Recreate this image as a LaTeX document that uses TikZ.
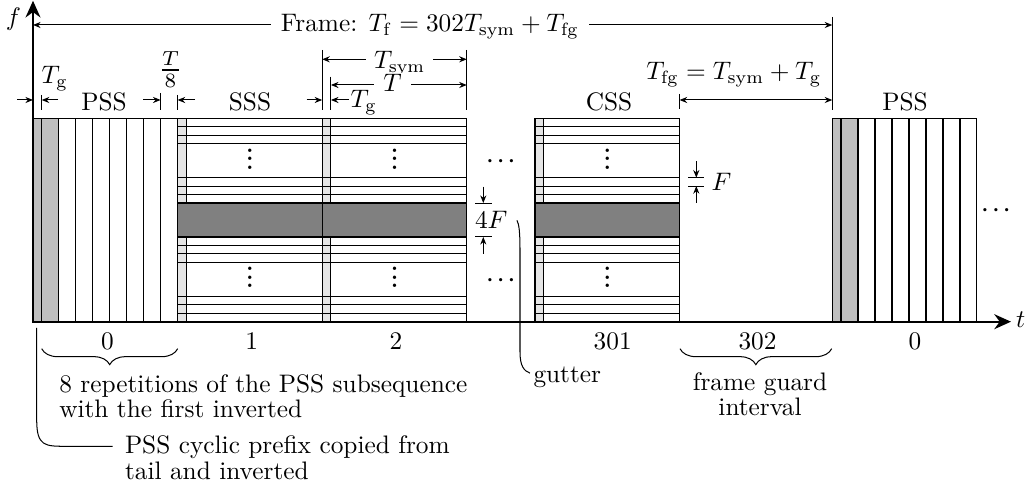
\documentclass[tikz,border=0pt]{standalone}
\usepackage{graphicx}
\usetikzlibrary{arrows.meta,decorations.pathreplacing,calc}
\newcommand\symbolblock[2]{% #1 = left x, #2 = name
  \fill[black!10] (#1,118.3) rectangle (#1+8.7,203.05);
  \fill[black!10] (#1,236.95) rectangle (#1+8.7,321.7);
  \filldraw[blk,fill=black!50] (#1,203.05) rectangle (#1+144.6,236.95);
  \foreach \k in {1,2,3,7,8,9,15,16,17,21,22,23}
    \draw[blk] (#1,118.3+\k*8.475) -- (#1+144.6,118.3+\k*8.475);
  \draw[blk] (#1+8.7,118.3) -- (#1+8.7,203.05) (#1+8.7,236.95) -- (#1+8.7,321.7);
  \draw[blk] (#1,118.3) rectangle (#1+144.6,321.7);
  \node[vdotsnode] (#2-vu) at (#1+72.3,169.5) {\scalebox{0.86}{\bfseries$\vdots$}};
  \node[vdotsnode] (#2-vl) at (#1+72.3,287.9) {\scalebox{0.86}{\bfseries$\vdots$}};
}
\newcommand\pssblock[1]{% #1 = left x
  \fill[black!25] (#1,118.3) rectangle (#1+25.69,321.7);
  \foreach \k in {0,...,7}
    \draw[blk] (#1+8.7+\k*16.99,118.3) -- (#1+8.7+\k*16.99,321.7);
  \draw[blk] (#1,118.3) rectangle (#1+144.6,321.7);
}
\begin{document}
\begin{tikzpicture}[x=0.395pt,y=-0.395pt,
  >={Stealth[length=3pt,width=2.4pt]},
  blk/.style={line width=0.45pt},
  dimline/.style={line width=0.4pt},
  dimarrow/.style={dimline,->},
  dimboth/.style={dimline,<->},
  axisline/.style={line width=0.8pt,
    {Stealth[length=6.6pt,width=5.9pt]}-{Stealth[length=6.6pt,width=5.9pt]}},
  lbl/.style={inner sep=0pt},
  gap/.style={fill=white,inner ysep=0.5pt},
  anno/.style={line width=0.4pt},
  bracedec/.style={decorate,decoration={brace,mirror,amplitude=6.3pt},line width=0.4pt},
  vdotsnode/.style={inner sep=0pt,anchor=base},
  cdotsnode/.style={inner sep=0pt,anchor=base},
  multiline/.style={inner sep=0pt},
  ]
\useasboundingbox (0,0) rectangle (1025,483);

% ---------- blocks ----------
\pssblock{33}
\symbolblock{177.6}{s1}
\symbolblock{322.2}{s2}
\symbolblock{535}{s301}
\pssblock{832.3}

% ---------- axes ----------
\coordinate (ftop) at (33,0.8);
\coordinate (orig) at (33,321.7);
\coordinate (tend) at (1011,321.7);
\draw[axisline] (ftop) -- (orig) -- (tend);
\node[lbl,anchor=base] (flab) at (13.5,26) {$f$};
\node[lbl,anchor=base west] (tlab) at (1015.5,328) {$t$};

% ---------- ellipses ----------
\node[cdotsnode] (gu) at (500.8,166.3) {\scalebox{0.84}{\boldmath$\cdots$}};
\node[cdotsnode] (gl) at (500.8,285.3) {\scalebox{0.84}{\boldmath$\cdots$}};
\node[cdotsnode] (rdots) at (996,215.3) {\scalebox{0.84}{\boldmath$\cdots$}};

% ---------- block labels ----------
\node[lbl,anchor=base] (pss1) at (104,111) {PSS};
\node[lbl,anchor=base] (sss) at (250,111) {SSS};
\node[lbl,anchor=base] (css) at (609,111) {CSS};
\node[lbl,anchor=base] (pss2) at (905,111) {PSS};

% ---------- ticks ----------
\coordinate (k1a) at (41.7,95);   \coordinate (k1b) at (41.7,110);
\coordinate (k2a) at (160.6,93);  \coordinate (k2b) at (160.6,110);
\coordinate (k3a) at (177.6,95);  \coordinate (k3b) at (177.6,110);
\coordinate (k4a) at (322.2,50);  \coordinate (k4b) at (322.2,110);
\coordinate (k5a) at (330.9,76.7);\coordinate (k5b) at (330.9,110);
\coordinate (k6a) at (466.8,50);  \coordinate (k6b) at (466.8,110);
\coordinate (k7a) at (679.6,94);  \coordinate (k7b) at (679.6,109);
\coordinate (k8a) at (832.3,17);  \coordinate (k8b) at (832.3,110);
\foreach \i in {1,...,8} \draw[dimline] (k\i a) -- (k\i b);

% ---------- dimension arrows ----------
\coordinate (a1) at (17,100);    \coordinate (a1e) at (33,100);
\coordinate (a2) at (58,100);    \coordinate (a2e) at (41.7,100);
\coordinate (a3) at (143.3,100); \coordinate (a3e) at (160.6,100);
\coordinate (a4) at (195,100);   \coordinate (a4e) at (177.6,100);
\coordinate (a5) at (306.7,100); \coordinate (a5e) at (322.2,100);
\coordinate (a6) at (349,100);   \coordinate (a6e) at (330.9,100);
\draw[dimarrow] (a1) -- (a1e);
\draw[dimarrow] (a2) -- (a2e);
\draw[dimarrow] (a3) -- (a3e);
\draw[dimarrow] (a4) -- (a4e);
\draw[dimarrow] (a5) -- (a5e);
\draw[dimarrow] (a6) -- (a6e);

\node[lbl,anchor=base west] (tg1) at (41,84) {$T_\mathrm{g}$};
\node[lbl,anchor=base] (t8) at (170.5,77.3) {\scalebox{1.15}{$\frac{T}{8}$}};
\node[lbl,anchor=base west] (tg2) at (350,108) {$T_\mathrm{g}$};

% T_sym, then T (T drawn on top)
\coordinate (sl) at (322.2,59.3); \coordinate (sr) at (466.8,59.3);
\draw[dimboth] (sl) -- (sr);
\node[gap,inner xsep=3pt,anchor=base] (Tsym) at (399.7,68.3) {$T_\mathrm{sym}$};
\coordinate (tl) at (330.9,85);   \coordinate (tr) at (466.8,85);
\draw[dimboth] (tl) -- (tr);
\node[gap,inner xsep=3.6pt,anchor=base] (Tlab) at (392.5,91.7) {$T$};

% frame
\coordinate (frl) at (33,25); \coordinate (frr) at (832.3,25);
\draw[dimboth] (frl) -- (frr);
\node[gap,inner xsep=3.9pt,anchor=base] (frame) at (430,31.7)
  {Frame: $T_\mathrm{f}=302T_\mathrm{sym}+T_\mathrm{fg}$};

% frame guard
\coordinate (gl1) at (679.6,100); \coordinate (gr1) at (832.3,100);
\draw[dimboth] (gl1) -- (gr1);
\node[lbl,anchor=base] (tfg) at (734,80) {$T_\mathrm{fg}=T_\mathrm{sym}+T_\mathrm{g}$};

% ---------- 4F ----------
\coordinate (q1) at (475,203.05);   \coordinate (q2) at (491.7,203.05);
\coordinate (q3) at (475,236.95);   \coordinate (q4) at (491.7,236.95);
\draw[dimline] (q1) -- (q2) (q3) -- (q4);
\coordinate (q5) at (483.3,186.7);  \coordinate (q6) at (483.3,203.05);
\coordinate (q7) at (483.3,254);    \coordinate (q8) at (483.3,236.95);
\draw[dimarrow] (q5) -- (q6);
\draw[dimarrow] (q7) -- (q8);
\node[lbl,anchor=base west] (fourF) at (474.5,229) {$4F$};

% ---------- F ----------
\coordinate (r1) at (688.3,177.63); \coordinate (r2) at (704.3,177.63);
\coordinate (r3) at (688.3,186.1);  \coordinate (r4) at (704.3,186.1);
\draw[dimline] (r1) -- (r2) (r3) -- (r4);
\coordinate (r5) at (696.3,161.3);  \coordinate (r6) at (696.3,177.63);
\coordinate (r7) at (696.3,203);    \coordinate (r8) at (696.3,186.1);
\draw[dimarrow] (r5) -- (r6);
\draw[dimarrow] (r7) -- (r8);
\node[lbl,anchor=base west] (Flab) at (711,190.6) {$F$};

% ---------- symbol indices ----------
\node[lbl,anchor=base] (n0) at (107.5,349.7) {0};
\node[lbl,anchor=base] (n1) at (251.7,349.7) {1};
\node[lbl,anchor=base] (n2) at (396,349.7) {2};
\node[lbl,anchor=base] (n301) at (612.7,349.7) {301};
\node[lbl,anchor=base] (n302) at (757.5,349.7) {302};
\node[lbl,anchor=base] (n0b) at (915,349.7) {0};

% ---------- braces ----------
\coordinate (b1l) at (41.7,348.7); \coordinate (b1r) at (177.7,348.7);
\draw[bracedec] (b1l) -- (b1r);
\coordinate (b2l) at (680,348.7);  \coordinate (b2r) at (831.7,348.7);
\draw[bracedec] (b2l) -- (b2r);

% ---------- annotations ----------
\node[multiline,align=left,anchor=north west] (rep) at (58.8,373.7)
  {8 repetitions of the PSS subsequence\\[-2pt]with the first inverted};
\node[multiline,align=center,anchor=north] (fgi) at (760,372.1)
  {frame guard\\[-2pt]interval};
\node[multiline,align=left,anchor=north west] (cp) at (124.5,435.4)
  {PSS cyclic prefix copied from\\[-2pt]tail and inverted};
\node[lbl,anchor=base west] (gutter) at (533,383) {gutter};

\coordinate (cps) at (36.7,328);
\draw[anno] (cps) -- (36.7,420) .. controls (36.7,446.3) and (45,446.3) .. (66,446.3)
  -- ($(cp.north west)+(-12,10.9)$);
\draw[anno] ($(fourF.east)+(9,0)$) .. controls (519,224) and (520,232) .. (520,250)
  -- (520,352) .. controls (520,366) and (524,371) .. ($(gutter.west)+(-3,-4.7)$);
\end{tikzpicture}
\end{document}
